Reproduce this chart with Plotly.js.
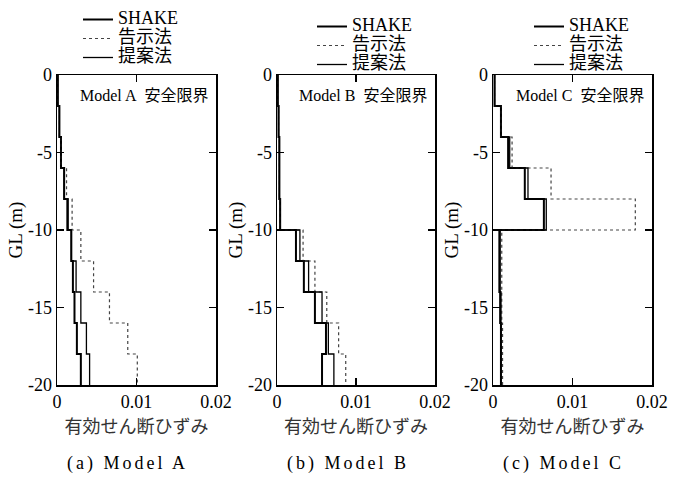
<!DOCTYPE html>
<html>
<head>
<meta charset="utf-8">
<script src="https://cdn.plot.ly/plotly-3.0.1.min.js"></script>
<style>html,body{margin:0;padding:0;background:#fff;}#chart{width:685px;height:478px;}</style>
</head>
<body>
<div id="chart"></div>
<script>
// Layer boundaries (GL, m)
const layerTop    = [0, -2, -4, -6, -8, -10, -12, -14, -16, -18];
const layerBottom = [-2, -4, -6, -8, -10, -12, -14, -16, -18, -20];

// Series names
const seriesNames = ["SHAKE", "告示法", "提案法"];

// Model A (effective shear strain per layer)
const shakeA  = [0.0001, 0.0003, 0.0005, 0.0009, 0.0013, 0.0018, 0.0020, 0.0022, 0.0025, 0.0030];
const kokujiA = [0.0001, 0.0003, 0.0005, 0.0012, 0.0019, 0.0030, 0.0046, 0.0066, 0.0089, 0.0101];
const teianA  = [0.0001, 0.0003, 0.0005, 0.0009, 0.0014, 0.0018, 0.0024, 0.0030, 0.0037, 0.0041];

// Model B
const shakeB  = [0.0001, 0.0002, 0.0003, 0.0003, 0.0004, 0.0024, 0.0034, 0.0048, 0.0062, 0.0057];
const kokujiB = [0.0001, 0.0002, 0.0003, 0.0003, 0.0004, 0.0033, 0.0048, 0.0063, 0.0078, 0.0087];
const teianB  = [0.0001, 0.0002, 0.0003, 0.0003, 0.0004, 0.0029, 0.0040, 0.0057, 0.0065, 0.0072];

// Model C
const shakeC  = [0.0002, 0.0010, 0.0019, 0.0040, 0.0064, 0.0008, 0.0008, 0.0009, 0.0010, 0.0010];
const kokujiC = [0.0002, 0.0010, 0.0024, 0.0073, 0.0179, 0.0011, 0.0011, 0.0011, 0.0012, 0.0012];
const teianC  = [0.0002, 0.0010, 0.0021, 0.0044, 0.0067, 0.0009, 0.0009, 0.0010, 0.0010, 0.0010];

// Text
const panelLabels = ["Model A", "Model B", "Model C"];
const limitLabel = "安全限界";
const captions = ["(a) Model A", "(b) Model B", "(c) Model C"];
const xTitle = "有効せん断ひずみ";
const yTitle = "GL (m)";
const xTickVals = [0, 0.01, 0.02];
const xTickText = ["0", "0.01", "0.02"];
const yTickVals = [0, -5, -10, -15, -20];
const yTickText = ["0", "-5", "-10", "-15", "-20"];

const SERIF = "'Liberation Serif', 'Times New Roman', serif";
const MIX = "'Liberation Serif', 'Noto Sans CJK JP', serif";
const CJK = "'Noto Sans CJK JP', sans-serif";

function stepProfile(vals) {
  const x = [], y = [];
  vals.forEach((v, i) => { x.push(v, v); y.push(layerTop[i], layerBottom[i]); });
  return {x, y};
}

const panels = [[shakeA, kokujiA, teianA], [shakeB, kokujiB, teianB], [shakeC, kokujiC, teianC]];
const legendIds = ["legend", "legend2", "legend3"];
const styles = [
  {color: "#000", width: 2.0, dash: "solid"},
  {color: "#444", width: 1.2, dash: "dot"},
  {color: "#000", width: 1.3, dash: "solid"}
];

const traces = [];
panels.forEach((series, p) => {
  series.forEach((vals, s) => {
    const st = stepProfile(vals);
    traces.push({
      type: "scatter", mode: "lines",
      x: st.x, y: st.y,
      name: '<span style="font-size:18px">' + seriesNames[s] + '</span>',
      line: styles[s],
      xaxis: p === 0 ? "x" : "x" + (p + 1),
      yaxis: p === 0 ? "y" : "y" + (p + 1),
      legend: legendIds[p],
      hoverinfo: "skip"
    });
  });
});

const W = 685, H = 478;
const xDomains = [[57, 216], [277, 435], [493, 652]];
const yDomain = [1 - 385 / H, 1 - 75 / H];

function xAxis(d) {
  return {
    domain: [d[0] / W, d[1] / W], range: [0, 0.02],
    tickvals: xTickVals, ticktext: xTickText,
    ticks: "inside", ticklen: 7, tickwidth: 1.2, tickcolor: "#000",
    showline: true, linecolor: "#000", linewidth: 1.5, mirror: "ticks",
    showgrid: false, zeroline: false,
    tickfont: {family: SERIF, size: 18, color: "#000"},
    title: {text: xTitle, font: {family: CJK, size: 18, color: "#333"}, standoff: 4},
    fixedrange: true
  };
}
function yAxis() {
  return {
    domain: yDomain, range: [-20, 0],
    tickvals: yTickVals, ticktext: yTickText,
    ticks: "inside", ticklen: 7, tickwidth: 1.2, tickcolor: "#000",
    showline: true, linecolor: "#000", linewidth: 1.5, mirror: "ticks",
    showgrid: false, zeroline: false,
    tickfont: {family: SERIF, size: 18, color: "#000"},
    title: {text: yTitle, font: {family: SERIF, size: 19, color: "#000"}, standoff: 0},
    fixedrange: true
  };
}

function legendAt(xText, yTop) {
  return {
    x: (xText - 40) / W, y: 1 - yTop / H, xanchor: "left", yanchor: "top",
    font: {family: MIX, size: 12, color: "#000"},
    bgcolor: "rgba(0,0,0,0)", borderwidth: 0, tracegroupgap: 0,
    traceorder: "normal"
  };
}

const annotations = [];
panels.forEach((_, p) => {
  const xr = p === 0 ? "x domain" : "x" + (p + 1) + " domain";
  const yr = p === 0 ? "y domain" : "y" + (p + 1) + " domain";
  annotations.push({
    xref: xr, yref: yr, x: 1, y: 1, xanchor: "right", yanchor: "middle",
    xshift: -6, yshift: -20, showarrow: false,
    text: panelLabels[p] + "&nbsp;&nbsp;" + limitLabel,
    font: {family: MIX, size: 16, color: "#000"}
  });
});
const captionX = [128, 348, 563];
captions.forEach((c, p) => {
  annotations.push({
    xref: "paper", yref: "paper", x: captionX[p] / W, y: 1 - 463 / H,
    xanchor: "center", yanchor: "middle", showarrow: false,
    text: '<span style="letter-spacing:3px">' + c + '</span>',
    font: {family: SERIF, size: 18, color: "#000"}
  });
});

const layout = {
  width: W, height: H,
  margin: {l: 0, r: 0, t: 0, b: 0},
  paper_bgcolor: "#fff", plot_bgcolor: "#fff",
  showlegend: true,
  xaxis: Object.assign(xAxis(xDomains[0]), {anchor: "y"}), yaxis: Object.assign(yAxis(), {anchor: "x"}),
  xaxis2: Object.assign(xAxis(xDomains[1]), {anchor: "y2"}), yaxis2: Object.assign(yAxis(), {anchor: "x2"}),
  xaxis3: Object.assign(xAxis(xDomains[2]), {anchor: "y3"}), yaxis3: Object.assign(yAxis(), {anchor: "x3"}),
  legend: legendAt(118, 5),
  legend2: legendAt(352, 12),
  legend3: legendAt(569, 12),
  annotations: annotations
};

Plotly.newPlot("chart", traces, layout, {displayModeBar: false, staticPlot: true});
</script>
</body>
</html>
